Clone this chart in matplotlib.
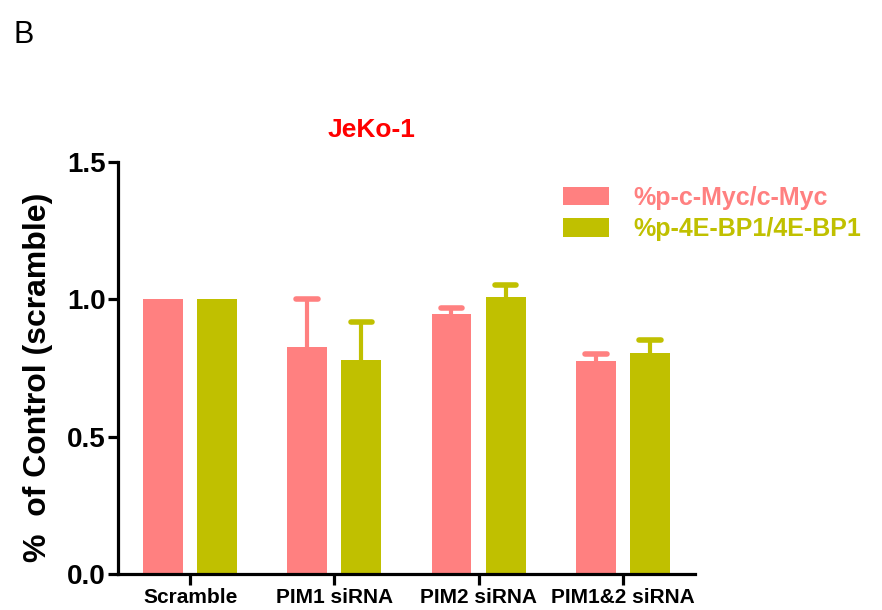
import numpy as np
import matplotlib
matplotlib.use('Agg')
import matplotlib.pyplot as plt
from matplotlib.patches import Patch

plt.rcParams['font.family'] = ['Liberation Sans', 'DejaVu Sans']

groups = ['Scramble', 'PIM1 siRNA', 'PIM2 siRNA', 'PIM1&2 siRNA']
series_names = ['%p-c-Myc/c-Myc', '%p-4E-BP1/4E-BP1']
myc_vals = [1.0, 0.827, 0.946, 0.775]
myc_err = [0.0, 0.173, 0.021, 0.025]
ebp_vals = [1.0, 0.780, 1.007, 0.806]
ebp_err = [0.0, 0.138, 0.046, 0.046]
colors = ['#FF8080', '#C0C000']

fig = plt.figure(figsize=(8.82, 6.10), dpi=100)
ax = fig.add_axes([0.1338, 0.059, 0.654, 0.6754])

x = np.arange(len(groups))
w = 0.277
off = 0.1875
cap = 0.075

for vals, errs, col, sign in [(myc_vals, myc_err, colors[0], -1), (ebp_vals, ebp_err, colors[1], 1)]:
    pos = x + sign * off
    ax.bar(pos, vals, width=w, color=col, zorder=2)
    for p, v, e in zip(pos, vals, errs):
        if e > 0:
            ax.vlines(p, v, v + e, color=col, linewidth=3, zorder=1)
            ax.hlines(v + e, p - cap, p + cap, color=col, linewidth=4,
                      capstyle='round', zorder=1)

ax.set_xlim(-0.5, 3.5)
ax.set_ylim(0, 1.5)
ax.set_yticks([0.0, 0.5, 1.0, 1.5])
ax.set_yticklabels(['0.0', '0.5', '1.0', '1.5'], fontsize=20, fontweight='bold')
ax.set_xticks(x)
ax.set_xticklabels(groups, fontsize=15, fontweight='bold')

for s in ['top', 'right']:
    ax.spines[s].set_visible(False)
for s in ['left', 'bottom']:
    ax.spines[s].set_linewidth(2.3)
ax.tick_params(axis='y', width=2.3, length=7, pad=2)
ax.tick_params(axis='x', width=2.3, length=8, pad=2)

ax.set_ylabel('%  of Control (scramble)', fontsize=23, fontweight='bold')
ax.yaxis.set_label_coords(-0.112, 0.478)
ax.set_title('JeKo-1', color='#FF0000', fontsize=19, fontweight='bold', x=0.44, pad=18)

handles = [Patch(facecolor=c) for c in colors]
leg = fig.legend(handles, series_names, loc='upper left', bbox_to_anchor=(0.627, 0.712),
                 frameon=False, fontsize=18, handlelength=1.85, handleheight=0.75,
                 labelspacing=0.3, handletextpad=0.95, borderaxespad=0)
for t, c in zip(leg.get_texts(), colors):
    t.set_color(c)
    t.set_fontweight('bold')

fig.text(0.015, 0.93, 'B', fontsize=22, color='black')

fig.savefig('out.png', dpi=100)
